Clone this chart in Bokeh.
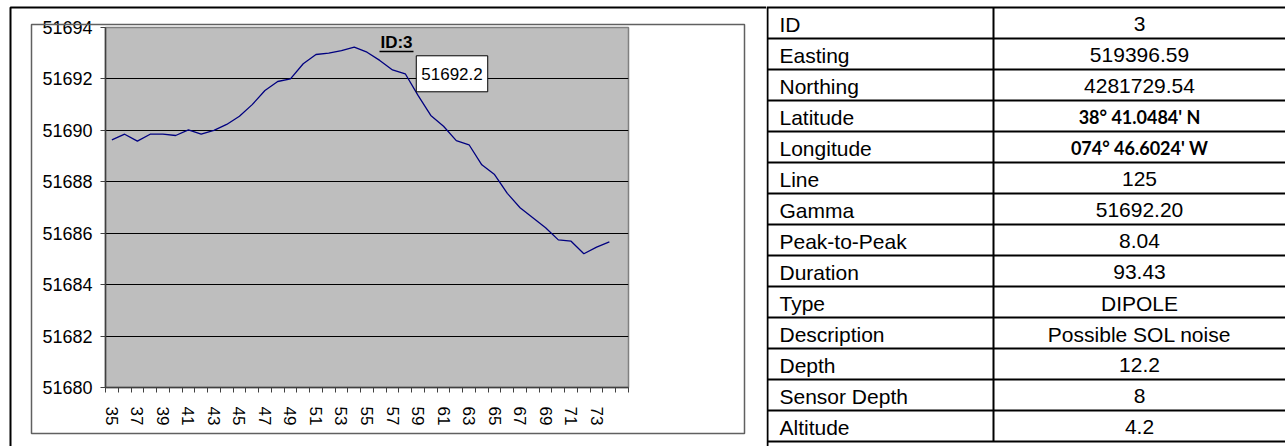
from bokeh.plotting import figure
from bokeh.layouts import row
from bokeh.models import Range1d, FixedTicker, Label, ColumnDataSource
from bokeh.embed import file_html
from bokeh.resources import INLINE
from bokeh.core.properties import value

# ---- profile data -------------------------------------------------------
sample_labels = ["35", "36", "37", "38", "39", "40", "41", "42", "43", "44",
                 "45", "46", "47", "48", "49", "50", "51", "52", "53", "54",
                 "55", "56", "57", "58", "59", "60", "61", "62", "63", "64",
                 "65", "66", "67", "68", "69", "70", "71", "72", "73", "74"]
gamma_readings = [51689.63, 51689.85, 51689.58, 51689.85, 51689.85, 51689.80,
                  51690.02, 51689.85, 51690.00, 51690.23, 51690.55, 51691.00,
                  51691.55, 51691.90, 51692.00, 51692.59, 51692.95, 51693.00,
                  51693.10, 51693.24, 51693.04, 51692.72, 51692.35, 51692.20,
                  51691.36, 51690.58, 51690.16, 51689.60, 51689.44, 51688.66,
                  51688.28, 51687.55, 51686.99, 51686.60, 51686.21, 51685.74,
                  51685.69, 51685.20, 51685.46, 51685.66]
y_ticks = [51680, 51682, 51684, 51686, 51688, 51690, 51692, 51694]
chart_title = "ID:3"
callout_sample = "58"
callout_value = 51692.2

# ---- target attributes ---------------------------------------------------
field_names = ["ID", "Easting", "Northing", "Latitude", "Longitude", "Line",
               "Gamma", "Peak-to-Peak", "Duration", "Type", "Description",
               "Depth", "Sensor Depth", "Altitude"]
field_values = ["3", "519396.59", "4281729.54", "38° 41.0484' N",
                "074° 46.6024' W", "125", "51692.20", "8.04", "93.43",
                "DIPOLE", "Possible SOL noise", "12.2", "8", "4.2"]
bold_fields = ["Latitude", "Longitude"]

# ---- layout -------------------------------------------------------------
H = 446
W_CHART = 766
W_TABLE = 1285 - W_CHART
FRAME_L, FRAME_R, FRAME_T, FRAME_B = 105, 628, 27, 387
ROW_TOP, ROW_H, SPLIT_X = 7, 31, 227
FONT = "Liberation Sans"

n_slots = len(sample_labels) + 1            # one empty slot at the right end
xs = [i + 0.5 for i in range(len(sample_labels))]

p = figure(width=W_CHART, height=H, output_backend="svg", toolbar_location=None,
           x_range=Range1d(0, n_slots), y_range=Range1d(y_ticks[0], y_ticks[-1]),
           min_border_left=FRAME_L, min_border_right=W_CHART - FRAME_R,
           min_border_top=FRAME_T, min_border_bottom=H - FRAME_B)
p.frame_align = False
p.background_fill_color = "#BEBEBE"
p.border_fill_color = "white"
p.outline_line_color = "#808080"
p.outline_line_width = 1.5

# frame-pixel helpers for placing decorations
x_per_px = n_slots / (FRAME_R - FRAME_L)
y_per_px = (y_ticks[-1] - y_ticks[0]) / (FRAME_B - FRAME_T)
def px_x(sx):
    return (sx - FRAME_L) * x_per_px
def px_y(sy):
    return y_ticks[-1] - (sy - FRAME_T) * y_per_px

# y axis
ya = p.yaxis[0]
ya.ticker = FixedTicker(ticks=y_ticks, minor_ticks=[])
ya.major_tick_out = 5
ya.major_tick_in = 0
ya.major_label_standoff = 8
ya.axis_line_color = "#404040"
ya.axis_line_width = 1.5
ya.major_tick_line_color = "#404040"
ya.major_label_text_font = FONT
ya.major_label_text_font_size = "18px"
ya.major_label_text_color = "black"

# x axis: ticks between samples, every other sample labelled
xa = p.xaxis[0]
label_pos = [xs[i] for i in range(0, len(sample_labels), 2)]
xa.ticker = FixedTicker(ticks=label_pos, minor_ticks=list(range(0, n_slots + 1)))
xa.major_label_overrides = {xs[i]: sample_labels[i]
                            for i in range(0, len(sample_labels), 2)}
xa.major_tick_out = 0
xa.major_tick_in = 0
xa.minor_tick_out = 5
xa.minor_tick_in = 0
xa.minor_tick_line_color = "#404040"
xa.axis_line_color = "#404040"
xa.axis_line_width = 1.5
xa.major_label_orientation = "vertical"
xa.major_label_standoff = 14
xa.major_label_text_font = FONT
xa.major_label_text_font_size = "17px"
xa.major_label_text_color = "black"

p.xgrid.visible = False
p.ygrid.grid_line_color = "black"
p.ygrid.grid_line_width = 1

src = ColumnDataSource(dict(x=xs, y=gamma_readings))
p.line("x", "y", source=src, line_color="#000080", line_width=1.3)

# chart title, underlined
title_cx, title_cy = 396, 42
p.add_layout(Label(x=px_x(title_cx), y=px_y(title_cy), text=chart_title,
                   text_align="center", text_baseline="middle",
                   text_font=FONT, text_font_style="bold",
                   text_font_size="17px", text_color="black"))
p.segment(x0=[px_x(title_cx - 17)], y0=[px_y(title_cy + 9)],
          x1=[px_x(title_cx + 17)], y1=[px_y(title_cy + 9)],
          line_color="black", line_width=1.3)

# data callout for the gamma value
ci = sample_labels.index(callout_sample)
p.add_layout(Label(x=xs[ci], y=callout_value, text=f"{callout_value:.1f}",
                   x_offset=11, y_offset=0, text_align="left",
                   text_baseline="middle", text_font=FONT,
                   text_font_size="17px", text_color="black",
                   background_fill_color="white", border_line_color="black",
                   border_line_width=1,
                   padding=dict(left=5, right=5, top=12, bottom=12)))

# chart area box and outer cell (drawn above the frame, unclipped)
p.quad(left=[px_x(31)], right=[px_x(744)], top=[px_y(24)], bottom=[px_y(433)],
       fill_alpha=0, line_color="#606060", line_width=1.5, level="overlay")
p.multi_line(xs=[[px_x(10), px_x(10), px_x(W_CHART + 2)]],
             ys=[[px_y(H + 10), px_y(7), px_y(7)]],
             line_color="black", line_width=2, level="overlay")

# ---- attribute table ----------------------------------------------------
t = figure(width=W_TABLE, height=H, output_backend="svg", toolbar_location=None,
           x_range=Range1d(0, W_TABLE), y_range=Range1d(H, 0),
           x_axis_location=None, y_axis_location=None,
           min_border=0, min_border_left=0, min_border_right=0,
           min_border_top=0, min_border_bottom=0)
t.frame_align = False
t.grid.visible = False
t.outline_line_color = None
t.background_fill_color = "white"
t.border_fill_color = "white"

n_rows = len(field_names)
row_lines_y = [ROW_TOP + ROW_H * k for k in range(n_rows + 1)]
t.segment(x0=[0] + [1] * n_rows, y0=row_lines_y,
          x1=[W_TABLE] * (n_rows + 1), y1=row_lines_y,
          line_color="black", line_width=2)
t.segment(x0=[1, SPLIT_X], y0=[ROW_TOP, ROW_TOP],
          x1=[1, SPLIT_X], y1=[H, row_lines_y[-1]],
          line_color="black", line_width=2)

row_cy = [ROW_TOP + ROW_H * k + ROW_H / 2 + 1 for k in range(n_rows)]
t.text(x=[13] * n_rows, y=row_cy, text=field_names,
       text_align="left", text_baseline="middle",
       text_font=value(FONT), text_font_size="21px", text_color="black")

val_src = ColumnDataSource(dict(
    x=[(SPLIT_X + W_TABLE) / 2] * n_rows, y=row_cy, text=field_values,
    font=["Lato" if f in bold_fields else FONT for f in field_names],
    style=["bold" if f in bold_fields else "normal" for f in field_names],
    size=["18px" if f in bold_fields else "21px" for f in field_names]))
t.text(x="x", y="y", text="text", source=val_src,
       text_align="center", text_baseline="middle",
       text_font="font", text_font_style="style", text_font_size="size",
       text_color="black")

layout = row(p, t, spacing=0)
open("out.html", "w").write(file_html(layout, INLINE))
